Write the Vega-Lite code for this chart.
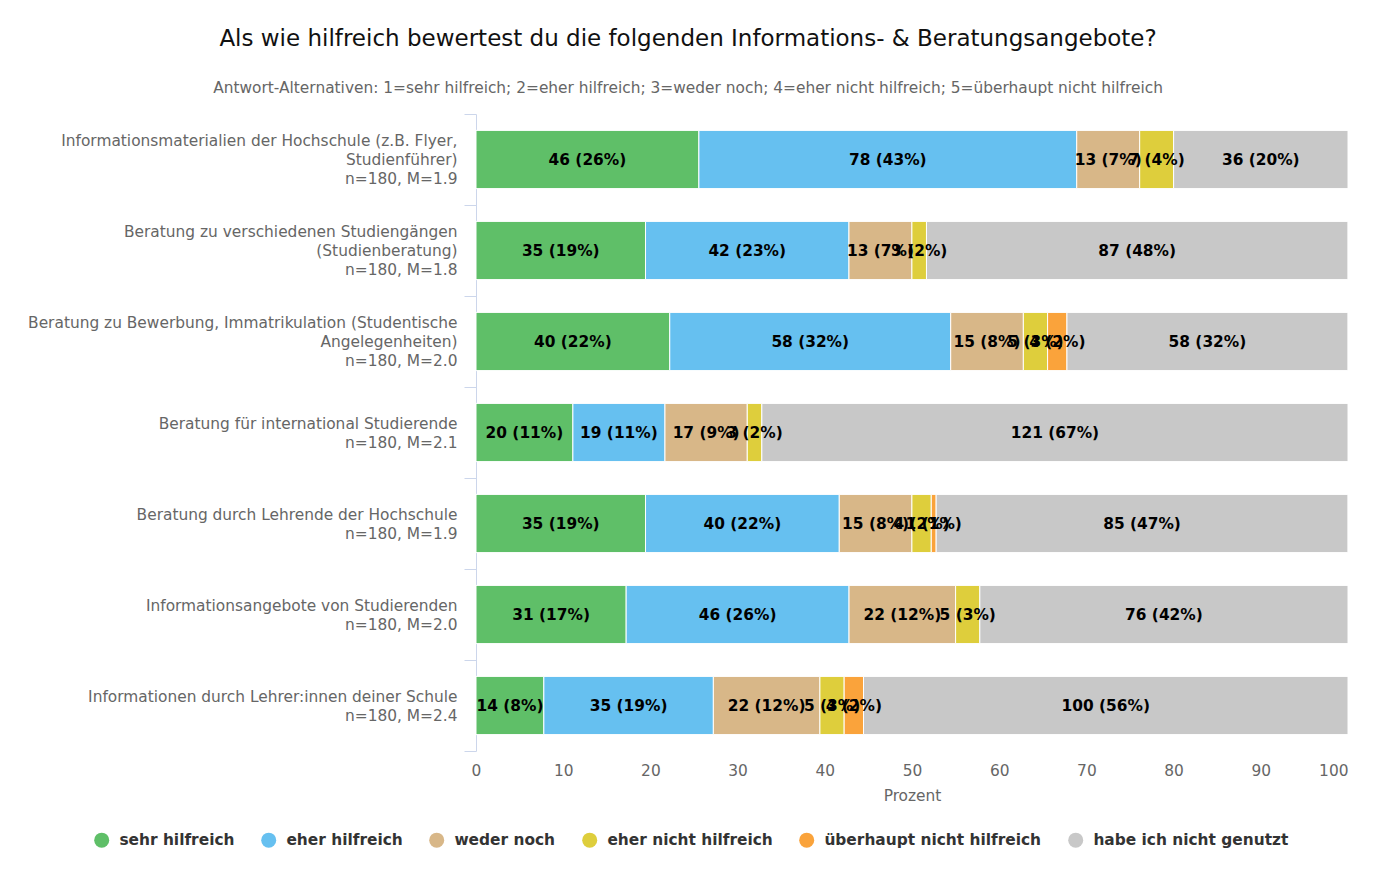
{
  "$schema": "https://vega.github.io/schema/vega-lite/v6.json",
  "background": "white",
  "padding": {"left": 27, "top": 27, "right": 22, "bottom": 10},
  "width": 872,
  "height": 637,
  "title": {
    "text": "Als wie hilfreich bewertest du die folgenden Informations- & Beratungsangebote?",
    "subtitle": "Antwort-Alternativen: 1=sehr hilfreich; 2=eher hilfreich; 3=weder noch; 4=eher nicht hilfreich; 5=überhaupt nicht hilfreich",
    "anchor": "middle",
    "frame": "bounds",
    "font": "DejaVu Sans",
    "fontSize": 23,
    "fontWeight": "normal",
    "color": "#111111",
    "subtitleFont": "DejaVu Sans",
    "subtitleFontSize": 15.4,
    "subtitleColor": "#666666",
    "subtitlePadding": 30,
    "offset": 11
  },
  "data": {"values": [
    {"Angebot": "Informationsmaterialien der Hochschule (z.B. Flyer,|Studienführer)|n=180, M=1.9", "Antwort": "sehr hilfreich", "o": 1, "Anzahl": 46, "Prozent": 25.56, "Label": "46 (26%)"},
    {"Angebot": "Informationsmaterialien der Hochschule (z.B. Flyer,|Studienführer)|n=180, M=1.9", "Antwort": "eher hilfreich", "o": 2, "Anzahl": 78, "Prozent": 43.33, "Label": "78 (43%)"},
    {"Angebot": "Informationsmaterialien der Hochschule (z.B. Flyer,|Studienführer)|n=180, M=1.9", "Antwort": "weder noch", "o": 3, "Anzahl": 13, "Prozent": 7.22, "Label": "13 (7%)"},
    {"Angebot": "Informationsmaterialien der Hochschule (z.B. Flyer,|Studienführer)|n=180, M=1.9", "Antwort": "eher nicht hilfreich", "o": 4, "Anzahl": 7, "Prozent": 3.89, "Label": "7 (4%)"},
    {"Angebot": "Informationsmaterialien der Hochschule (z.B. Flyer,|Studienführer)|n=180, M=1.9", "Antwort": "habe ich nicht genutzt", "o": 6, "Anzahl": 36, "Prozent": 20.0, "Label": "36 (20%)"},

    {"Angebot": "Beratung zu verschiedenen Studiengängen|(Studienberatung)|n=180, M=1.8", "Antwort": "sehr hilfreich", "o": 1, "Anzahl": 35, "Prozent": 19.44, "Label": "35 (19%)"},
    {"Angebot": "Beratung zu verschiedenen Studiengängen|(Studienberatung)|n=180, M=1.8", "Antwort": "eher hilfreich", "o": 2, "Anzahl": 42, "Prozent": 23.33, "Label": "42 (23%)"},
    {"Angebot": "Beratung zu verschiedenen Studiengängen|(Studienberatung)|n=180, M=1.8", "Antwort": "weder noch", "o": 3, "Anzahl": 13, "Prozent": 7.22, "Label": "13 (7%)"},
    {"Angebot": "Beratung zu verschiedenen Studiengängen|(Studienberatung)|n=180, M=1.8", "Antwort": "eher nicht hilfreich", "o": 4, "Anzahl": 3, "Prozent": 1.67, "Label": "3 (2%)"},
    {"Angebot": "Beratung zu verschiedenen Studiengängen|(Studienberatung)|n=180, M=1.8", "Antwort": "habe ich nicht genutzt", "o": 6, "Anzahl": 87, "Prozent": 48.33, "Label": "87 (48%)"},

    {"Angebot": "Beratung zu Bewerbung, Immatrikulation (Studentische|Angelegenheiten)|n=180, M=2.0", "Antwort": "sehr hilfreich", "o": 1, "Anzahl": 40, "Prozent": 22.22, "Label": "40 (22%)"},
    {"Angebot": "Beratung zu Bewerbung, Immatrikulation (Studentische|Angelegenheiten)|n=180, M=2.0", "Antwort": "eher hilfreich", "o": 2, "Anzahl": 58, "Prozent": 32.22, "Label": "58 (32%)"},
    {"Angebot": "Beratung zu Bewerbung, Immatrikulation (Studentische|Angelegenheiten)|n=180, M=2.0", "Antwort": "weder noch", "o": 3, "Anzahl": 15, "Prozent": 8.33, "Label": "15 (8%)"},
    {"Angebot": "Beratung zu Bewerbung, Immatrikulation (Studentische|Angelegenheiten)|n=180, M=2.0", "Antwort": "eher nicht hilfreich", "o": 4, "Anzahl": 5, "Prozent": 2.78, "Label": "5 (3%)"},
    {"Angebot": "Beratung zu Bewerbung, Immatrikulation (Studentische|Angelegenheiten)|n=180, M=2.0", "Antwort": "überhaupt nicht hilfreich", "o": 5, "Anzahl": 4, "Prozent": 2.22, "Label": "4 (2%)"},
    {"Angebot": "Beratung zu Bewerbung, Immatrikulation (Studentische|Angelegenheiten)|n=180, M=2.0", "Antwort": "habe ich nicht genutzt", "o": 6, "Anzahl": 58, "Prozent": 32.22, "Label": "58 (32%)"},

    {"Angebot": "Beratung für international Studierende|n=180, M=2.1", "Antwort": "sehr hilfreich", "o": 1, "Anzahl": 20, "Prozent": 11.11, "Label": "20 (11%)"},
    {"Angebot": "Beratung für international Studierende|n=180, M=2.1", "Antwort": "eher hilfreich", "o": 2, "Anzahl": 19, "Prozent": 10.56, "Label": "19 (11%)"},
    {"Angebot": "Beratung für international Studierende|n=180, M=2.1", "Antwort": "weder noch", "o": 3, "Anzahl": 17, "Prozent": 9.44, "Label": "17 (9%)"},
    {"Angebot": "Beratung für international Studierende|n=180, M=2.1", "Antwort": "eher nicht hilfreich", "o": 4, "Anzahl": 3, "Prozent": 1.67, "Label": "3 (2%)"},
    {"Angebot": "Beratung für international Studierende|n=180, M=2.1", "Antwort": "habe ich nicht genutzt", "o": 6, "Anzahl": 121, "Prozent": 67.22, "Label": "121 (67%)"},

    {"Angebot": "Beratung durch Lehrende der Hochschule|n=180, M=1.9", "Antwort": "sehr hilfreich", "o": 1, "Anzahl": 35, "Prozent": 19.44, "Label": "35 (19%)"},
    {"Angebot": "Beratung durch Lehrende der Hochschule|n=180, M=1.9", "Antwort": "eher hilfreich", "o": 2, "Anzahl": 40, "Prozent": 22.22, "Label": "40 (22%)"},
    {"Angebot": "Beratung durch Lehrende der Hochschule|n=180, M=1.9", "Antwort": "weder noch", "o": 3, "Anzahl": 15, "Prozent": 8.33, "Label": "15 (8%)"},
    {"Angebot": "Beratung durch Lehrende der Hochschule|n=180, M=1.9", "Antwort": "eher nicht hilfreich", "o": 4, "Anzahl": 4, "Prozent": 2.22, "Label": "4 (2%)"},
    {"Angebot": "Beratung durch Lehrende der Hochschule|n=180, M=1.9", "Antwort": "überhaupt nicht hilfreich", "o": 5, "Anzahl": 1, "Prozent": 0.56, "Label": "1 (1%)"},
    {"Angebot": "Beratung durch Lehrende der Hochschule|n=180, M=1.9", "Antwort": "habe ich nicht genutzt", "o": 6, "Anzahl": 85, "Prozent": 47.22, "Label": "85 (47%)"},

    {"Angebot": "Informationsangebote von Studierenden|n=180, M=2.0", "Antwort": "sehr hilfreich", "o": 1, "Anzahl": 31, "Prozent": 17.22, "Label": "31 (17%)"},
    {"Angebot": "Informationsangebote von Studierenden|n=180, M=2.0", "Antwort": "eher hilfreich", "o": 2, "Anzahl": 46, "Prozent": 25.56, "Label": "46 (26%)"},
    {"Angebot": "Informationsangebote von Studierenden|n=180, M=2.0", "Antwort": "weder noch", "o": 3, "Anzahl": 22, "Prozent": 12.22, "Label": "22 (12%)"},
    {"Angebot": "Informationsangebote von Studierenden|n=180, M=2.0", "Antwort": "eher nicht hilfreich", "o": 4, "Anzahl": 5, "Prozent": 2.78, "Label": "5 (3%)"},
    {"Angebot": "Informationsangebote von Studierenden|n=180, M=2.0", "Antwort": "habe ich nicht genutzt", "o": 6, "Anzahl": 76, "Prozent": 42.22, "Label": "76 (42%)"},

    {"Angebot": "Informationen durch Lehrer:innen deiner Schule|n=180, M=2.4", "Antwort": "sehr hilfreich", "o": 1, "Anzahl": 14, "Prozent": 7.78, "Label": "14 (8%)"},
    {"Angebot": "Informationen durch Lehrer:innen deiner Schule|n=180, M=2.4", "Antwort": "eher hilfreich", "o": 2, "Anzahl": 35, "Prozent": 19.44, "Label": "35 (19%)"},
    {"Angebot": "Informationen durch Lehrer:innen deiner Schule|n=180, M=2.4", "Antwort": "weder noch", "o": 3, "Anzahl": 22, "Prozent": 12.22, "Label": "22 (12%)"},
    {"Angebot": "Informationen durch Lehrer:innen deiner Schule|n=180, M=2.4", "Antwort": "eher nicht hilfreich", "o": 4, "Anzahl": 5, "Prozent": 2.78, "Label": "5 (3%)"},
    {"Angebot": "Informationen durch Lehrer:innen deiner Schule|n=180, M=2.4", "Antwort": "überhaupt nicht hilfreich", "o": 5, "Anzahl": 4, "Prozent": 2.22, "Label": "4 (2%)"},
    {"Angebot": "Informationen durch Lehrer:innen deiner Schule|n=180, M=2.4", "Antwort": "habe ich nicht genutzt", "o": 6, "Anzahl": 100, "Prozent": 55.56, "Label": "100 (56%)"}
  ]},
  "encoding": {
    "y": {
      "field": "Angebot",
      "type": "nominal",
      "sort": null,
      "scale": {"paddingInner": 0, "paddingOuter": 0},
      "axis": {
        "title": null,
        "labelExpr": "isValid(datum.value) ? split(datum.value, '|') : ''",
        "labelFont": "DejaVu Sans",
        "labelFontSize": 15.4,
        "labelColor": "#666666",
        "labelLineHeight": 19,
        "labelLimit": 600,
        "labelPadding": 7,
        "labelOffset": {"condition": {"test": "isValid(datum.value) && indexof(datum.value, ')|') >= 0", "value": -19}, "value": -9.5},
        "tickBand": "extent",
        "tickSize": 12,
        "tickColor": "#ccd6eb",
        "domainColor": "#ccd6eb",
        "grid": false
      }
    },
    "x": {
      "field": "Prozent",
      "type": "quantitative",
      "stack": "zero",
      "scale": {"domain": [0, 100], "nice": false},
      "axis": {
        "title": "Prozent",
        "titleFont": "DejaVu Sans",
        "titleFontSize": 15.4,
        "titleFontWeight": "normal",
        "titleColor": "#666666",
        "titlePadding": 10,
        "values": [0, 10, 20, 30, 40, 50, 60, 70, 80, 90, 100],
        "labelFont": "DejaVu Sans",
        "labelFontSize": 15.4,
        "labelColor": "#666666",
        "labelPadding": 12,
        "labelAlign": {"condition": {"test": "datum.value == 100", "value": "right"}, "value": "center"},
        "ticks": false,
        "domain": false,
        "grid": false
      }
    },
    "order": {"field": "o", "type": "quantitative"}
  },
  "layer": [
    {
      "mark": {"type": "bar", "stroke": "white", "strokeWidth": 1, "height": {"band": 0.64}},
      "encoding": {
        "color": {
          "field": "Antwort",
          "type": "nominal",
          "scale": {
            "domain": ["sehr hilfreich", "eher hilfreich", "weder noch", "eher nicht hilfreich", "überhaupt nicht hilfreich", "habe ich nicht genutzt"],
            "range": ["#5fbf68", "#66c0f0", "#d8b788", "#dece3c", "#faa33b", "#c8c8c8"]
          },
          "legend": {
            "title": null,
            "orient": "none",
            "direction": "horizontal",
            "legendX": -382,
            "legendY": 718,
            "symbolType": "circle",
            "symbolSize": 225,
            "symbolStrokeWidth": 0,
            "labelFont": "DejaVu Sans",
            "labelFontSize": 15.4,
            "labelFontWeight": "bold",
            "labelColor": "#333333",
            "labelOffset": 10,
            "columnPadding": 26,
            "labelLimit": 400
          }
        }
      }
    },
    {
      "mark": {"type": "text", "font": "DejaVu Sans", "fontSize": 15.4, "fontWeight": "bold", "color": "#000000", "align": "center", "baseline": "middle"},
      "encoding": {
        "x": {"field": "Prozent", "type": "quantitative", "stack": "zero", "bandPosition": 0.5},
        "text": {"field": "Label", "type": "nominal"}
      }
    }
  ],
  "config": {
    "view": {"stroke": null},
    "font": "DejaVu Sans"
  }
}
